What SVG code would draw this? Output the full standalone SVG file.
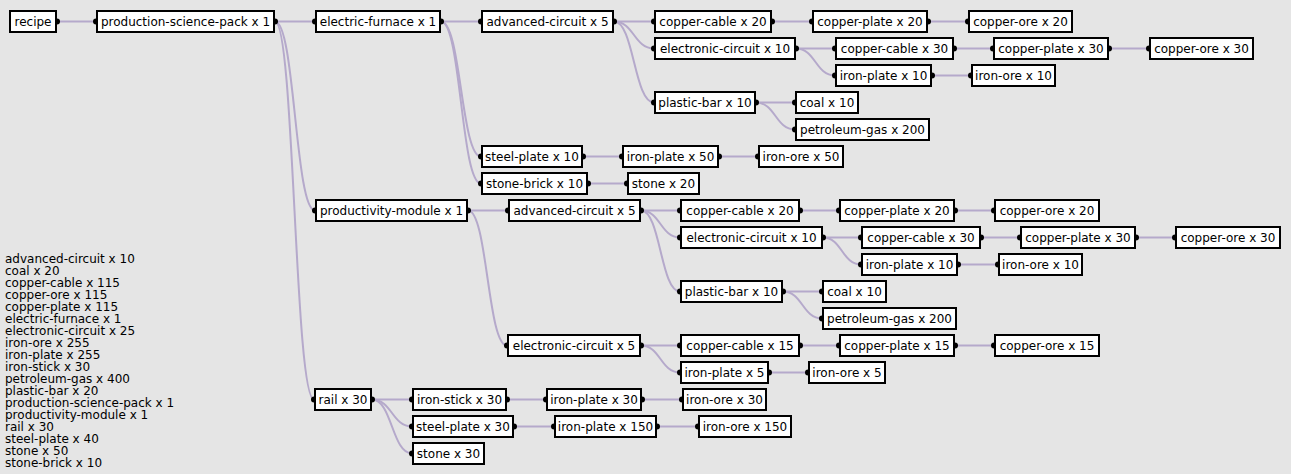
<svg xmlns="http://www.w3.org/2000/svg" width="1291" height="474" viewBox="0 0 1291 474">
<style>
.bg{fill:#e5e5e5}
.e path{fill:none;stroke:#b5a9cb;stroke-width:2}
.n rect{fill:#fff;stroke:#000;stroke-width:2}
.n circle{fill:#000;stroke:none}
.n text{font-family:"DejaVu Sans",sans-serif;font-size:12px;fill:#000;text-anchor:middle}
.leg{font-family:"DejaVu Sans",sans-serif;font-size:12px;fill:#000}
</style>
<rect class="bg" x="0" y="0" width="1291" height="474"/>
<g id="connectors" class="e">
<path d="M57 21.5H96"/>
<path d="M275 21.5H315"/>
<path d="M275 21.5C295 21.5 295 210.5 315 210.5"/>
<path d="M275 21.5C294.5 21.5 294.5 399.5 314 399.5"/>
<path d="M441 21.5H481"/>
<path d="M441 21.5C461 21.5 461 156.5 481 156.5"/>
<path d="M441 21.5C461 21.5 461 183.5 481 183.5"/>
<path d="M614 21.5H654"/>
<path d="M614 21.5C634 21.5 634 48.5 654 48.5"/>
<path d="M614 21.5C634 21.5 634 102.5 654 102.5"/>
<path d="M772 21.5H812"/>
<path d="M928 21.5H968"/>
<path d="M796 48.5H835"/>
<path d="M796 48.5C815.5 48.5 815.5 75.5 835 75.5"/>
<path d="M954 48.5H993"/>
<path d="M1109 48.5H1149"/>
<path d="M932 75.5H971"/>
<path d="M756 102.5H795"/>
<path d="M756 102.5C775.5 102.5 775.5 129.5 795 129.5"/>
<path d="M583 156.5H622"/>
<path d="M719 156.5H758"/>
<path d="M588 183.5H627"/>
<path d="M468 210.5H508"/>
<path d="M468 210.5C487.5 210.5 487.5 345.5 507 345.5"/>
<path d="M641 210.5H680"/>
<path d="M641 210.5C660.5 210.5 660.5 237.5 680 237.5"/>
<path d="M641 210.5C660.5 210.5 660.5 291.5 680 291.5"/>
<path d="M800 210.5H839"/>
<path d="M955 210.5H994"/>
<path d="M823 237.5H861"/>
<path d="M823 237.5C842 237.5 842 264.5 861 264.5"/>
<path d="M981 237.5H1020"/>
<path d="M1136 237.5H1175"/>
<path d="M958 264.5H998"/>
<path d="M783 291.5H822"/>
<path d="M783 291.5C802.5 291.5 802.5 318.5 822 318.5"/>
<path d="M641 345.5H680"/>
<path d="M641 345.5C660.5 345.5 660.5 372.5 680 372.5"/>
<path d="M800 345.5H839"/>
<path d="M955 345.5H994"/>
<path d="M769 372.5H808"/>
<path d="M372 399.5H412"/>
<path d="M372 399.5C392 399.5 392 426.5 412 426.5"/>
<path d="M372 399.5C392 399.5 392 453.5 412 453.5"/>
<path d="M507 399.5H546"/>
<path d="M642 399.5H682"/>
<path d="M514 426.5H554"/>
<path d="M657 426.5H698"/>
</g>
<g id="n0" class="n"><circle cx="57" cy="21.5" r="3"/><rect x="10" y="11" width="46" height="21"/><text x="33" y="26">recipe</text></g>
<g id="n1" class="n"><circle cx="96" cy="21.5" r="3"/><circle cx="275" cy="21.5" r="3"/><rect x="97" y="11" width="177" height="21"/><text x="185.5" y="26">production-science-pack x 1</text></g>
<g id="n2" class="n"><circle cx="315" cy="21.5" r="3"/><circle cx="441" cy="21.5" r="3"/><rect x="316" y="11" width="124" height="21"/><text x="378" y="26">electric-furnace x 1</text></g>
<g id="n3" class="n"><circle cx="481" cy="21.5" r="3"/><circle cx="614" cy="21.5" r="3"/><rect x="482" y="11" width="131" height="21"/><text x="547.5" y="26">advanced-circuit x 5</text></g>
<g id="n4" class="n"><circle cx="654" cy="21.5" r="3"/><circle cx="772" cy="21.5" r="3"/><rect x="655" y="11" width="116" height="21"/><text x="713" y="26">copper-cable x 20</text></g>
<g id="n5" class="n"><circle cx="812" cy="21.5" r="3"/><circle cx="928" cy="21.5" r="3"/><rect x="813" y="11" width="114" height="21"/><text x="870" y="26">copper-plate x 20</text></g>
<g id="n6" class="n"><circle cx="968" cy="21.5" r="3"/><rect x="969" y="11" width="103" height="21"/><text x="1020.5" y="26">copper-ore x 20</text></g>
<g id="n7" class="n"><circle cx="654" cy="48.5" r="3"/><circle cx="796" cy="48.5" r="3"/><rect x="655" y="38" width="140" height="21"/><text x="725" y="53">electronic-circuit x 10</text></g>
<g id="n8" class="n"><circle cx="835" cy="48.5" r="3"/><circle cx="954" cy="48.5" r="3"/><rect x="836" y="38" width="117" height="21"/><text x="894.5" y="53">copper-cable x 30</text></g>
<g id="n9" class="n"><circle cx="993" cy="48.5" r="3"/><circle cx="1109" cy="48.5" r="3"/><rect x="994" y="38" width="114" height="21"/><text x="1051" y="53">copper-plate x 30</text></g>
<g id="n10" class="n"><circle cx="1149" cy="48.5" r="3"/><rect x="1150" y="38" width="103" height="21"/><text x="1201.5" y="53">copper-ore x 30</text></g>
<g id="n11" class="n"><circle cx="835" cy="75.5" r="3"/><circle cx="932" cy="75.5" r="3"/><rect x="836" y="65" width="95" height="21"/><text x="883.5" y="80">iron-plate x 10</text></g>
<g id="n12" class="n"><circle cx="971" cy="75.5" r="3"/><rect x="972" y="65" width="83" height="21"/><text x="1013.5" y="80">iron-ore x 10</text></g>
<g id="n13" class="n"><circle cx="654" cy="102.5" r="3"/><circle cx="756" cy="102.5" r="3"/><rect x="655" y="92" width="100" height="21"/><text x="705" y="107">plastic-bar x 10</text></g>
<g id="n14" class="n"><circle cx="795" cy="102.5" r="3"/><rect x="796" y="92" width="62" height="21"/><text x="827" y="107">coal x 10</text></g>
<g id="n15" class="n"><circle cx="795" cy="129.5" r="3"/><rect x="796" y="119" width="133" height="21"/><text x="862.5" y="134">petroleum-gas x 200</text></g>
<g id="n16" class="n"><circle cx="481" cy="156.5" r="3"/><circle cx="583" cy="156.5" r="3"/><rect x="482" y="146" width="100" height="21"/><text x="532" y="161">steel-plate x 10</text></g>
<g id="n17" class="n"><circle cx="622" cy="156.5" r="3"/><circle cx="719" cy="156.5" r="3"/><rect x="623" y="146" width="95" height="21"/><text x="670.5" y="161">iron-plate x 50</text></g>
<g id="n18" class="n"><circle cx="758" cy="156.5" r="3"/><rect x="759" y="146" width="84" height="21"/><text x="801" y="161">iron-ore x 50</text></g>
<g id="n19" class="n"><circle cx="481" cy="183.5" r="3"/><circle cx="588" cy="183.5" r="3"/><rect x="482" y="173" width="105" height="21"/><text x="534.5" y="188">stone-brick x 10</text></g>
<g id="n20" class="n"><circle cx="627" cy="183.5" r="3"/><rect x="628" y="173" width="71" height="21"/><text x="663.5" y="188">stone x 20</text></g>
<g id="n21" class="n"><circle cx="315" cy="210.5" r="3"/><circle cx="468" cy="210.5" r="3"/><rect x="316" y="200" width="151" height="21"/><text x="391.5" y="215">productivity-module x 1</text></g>
<g id="n22" class="n"><circle cx="508" cy="210.5" r="3"/><circle cx="641" cy="210.5" r="3"/><rect x="509" y="200" width="131" height="21"/><text x="574.5" y="215">advanced-circuit x 5</text></g>
<g id="n23" class="n"><circle cx="680" cy="210.5" r="3"/><circle cx="800" cy="210.5" r="3"/><rect x="681" y="200" width="118" height="21"/><text x="740" y="215">copper-cable x 20</text></g>
<g id="n24" class="n"><circle cx="839" cy="210.5" r="3"/><circle cx="955" cy="210.5" r="3"/><rect x="840" y="200" width="114" height="21"/><text x="897" y="215">copper-plate x 20</text></g>
<g id="n25" class="n"><circle cx="994" cy="210.5" r="3"/><rect x="995" y="200" width="104" height="21"/><text x="1047" y="215">copper-ore x 20</text></g>
<g id="n26" class="n"><circle cx="680" cy="237.5" r="3"/><circle cx="823" cy="237.5" r="3"/><rect x="681" y="227" width="141" height="21"/><text x="751.5" y="242">electronic-circuit x 10</text></g>
<g id="n27" class="n"><circle cx="861" cy="237.5" r="3"/><circle cx="981" cy="237.5" r="3"/><rect x="862" y="227" width="118" height="21"/><text x="921" y="242">copper-cable x 30</text></g>
<g id="n28" class="n"><circle cx="1020" cy="237.5" r="3"/><circle cx="1136" cy="237.5" r="3"/><rect x="1021" y="227" width="114" height="21"/><text x="1078" y="242">copper-plate x 30</text></g>
<g id="n29" class="n"><circle cx="1175" cy="237.5" r="3"/><rect x="1176" y="227" width="104" height="21"/><text x="1228" y="242">copper-ore x 30</text></g>
<g id="n30" class="n"><circle cx="861" cy="264.5" r="3"/><circle cx="958" cy="264.5" r="3"/><rect x="862" y="254" width="95" height="21"/><text x="909.5" y="269">iron-plate x 10</text></g>
<g id="n31" class="n"><circle cx="998" cy="264.5" r="3"/><rect x="999" y="254" width="83" height="21"/><text x="1040.5" y="269">iron-ore x 10</text></g>
<g id="n32" class="n"><circle cx="680" cy="291.5" r="3"/><circle cx="783" cy="291.5" r="3"/><rect x="681" y="281" width="101" height="21"/><text x="731.5" y="296">plastic-bar x 10</text></g>
<g id="n33" class="n"><circle cx="822" cy="291.5" r="3"/><rect x="823" y="281" width="63" height="21"/><text x="854.5" y="296">coal x 10</text></g>
<g id="n34" class="n"><circle cx="822" cy="318.5" r="3"/><rect x="823" y="308" width="133" height="21"/><text x="889.5" y="323">petroleum-gas x 200</text></g>
<g id="n35" class="n"><circle cx="507" cy="345.5" r="3"/><circle cx="641" cy="345.5" r="3"/><rect x="508" y="335" width="132" height="21"/><text x="574" y="350">electronic-circuit x 5</text></g>
<g id="n36" class="n"><circle cx="680" cy="345.5" r="3"/><circle cx="800" cy="345.5" r="3"/><rect x="681" y="335" width="118" height="21"/><text x="740" y="350">copper-cable x 15</text></g>
<g id="n37" class="n"><circle cx="839" cy="345.5" r="3"/><circle cx="955" cy="345.5" r="3"/><rect x="840" y="335" width="114" height="21"/><text x="897" y="350">copper-plate x 15</text></g>
<g id="n38" class="n"><circle cx="994" cy="345.5" r="3"/><rect x="995" y="335" width="104" height="21"/><text x="1047" y="350">copper-ore x 15</text></g>
<g id="n39" class="n"><circle cx="680" cy="372.5" r="3"/><circle cx="769" cy="372.5" r="3"/><rect x="681" y="362" width="87" height="21"/><text x="724.5" y="377">iron-plate x 5</text></g>
<g id="n40" class="n"><circle cx="808" cy="372.5" r="3"/><rect x="809" y="362" width="76" height="21"/><text x="847" y="377">iron-ore x 5</text></g>
<g id="n41" class="n"><circle cx="314" cy="399.5" r="3"/><circle cx="372" cy="399.5" r="3"/><rect x="315" y="389" width="56" height="21"/><text x="343" y="404">rail x 30</text></g>
<g id="n42" class="n"><circle cx="412" cy="399.5" r="3"/><circle cx="507" cy="399.5" r="3"/><rect x="413" y="389" width="93" height="21"/><text x="459.5" y="404">iron-stick x 30</text></g>
<g id="n43" class="n"><circle cx="546" cy="399.5" r="3"/><circle cx="642" cy="399.5" r="3"/><rect x="547" y="389" width="94" height="21"/><text x="594" y="404">iron-plate x 30</text></g>
<g id="n44" class="n"><circle cx="682" cy="399.5" r="3"/><rect x="683" y="389" width="83" height="21"/><text x="724.5" y="404">iron-ore x 30</text></g>
<g id="n45" class="n"><circle cx="412" cy="426.5" r="3"/><circle cx="514" cy="426.5" r="3"/><rect x="413" y="416" width="100" height="21"/><text x="463" y="431">steel-plate x 30</text></g>
<g id="n46" class="n"><circle cx="554" cy="426.5" r="3"/><circle cx="657" cy="426.5" r="3"/><rect x="555" y="416" width="101" height="21"/><text x="605.5" y="431">iron-plate x 150</text></g>
<g id="n47" class="n"><circle cx="698" cy="426.5" r="3"/><rect x="699" y="416" width="92" height="21"/><text x="745" y="431">iron-ore x 150</text></g>
<g id="n48" class="n"><circle cx="412" cy="453.5" r="3"/><rect x="413" y="443" width="71" height="21"/><text x="448.5" y="458">stone x 30</text></g>
<g id="legend">
<text class="leg" x="5" y="263">advanced-circuit x 10</text>
<text class="leg" x="5" y="275">coal x 20</text>
<text class="leg" x="5" y="287">copper-cable x 115</text>
<text class="leg" x="5" y="299">copper-ore x 115</text>
<text class="leg" x="5" y="311">copper-plate x 115</text>
<text class="leg" x="5" y="323">electric-furnace x 1</text>
<text class="leg" x="5" y="335">electronic-circuit x 25</text>
<text class="leg" x="5" y="347">iron-ore x 255</text>
<text class="leg" x="5" y="359">iron-plate x 255</text>
<text class="leg" x="5" y="371">iron-stick x 30</text>
<text class="leg" x="5" y="383">petroleum-gas x 400</text>
<text class="leg" x="5" y="395">plastic-bar x 20</text>
<text class="leg" x="5" y="407">production-science-pack x 1</text>
<text class="leg" x="5" y="419">productivity-module x 1</text>
<text class="leg" x="5" y="431">rail x 30</text>
<text class="leg" x="5" y="443">steel-plate x 40</text>
<text class="leg" x="5" y="455">stone x 50</text>
<text class="leg" x="5" y="467">stone-brick x 10</text>
</g>
</svg>
